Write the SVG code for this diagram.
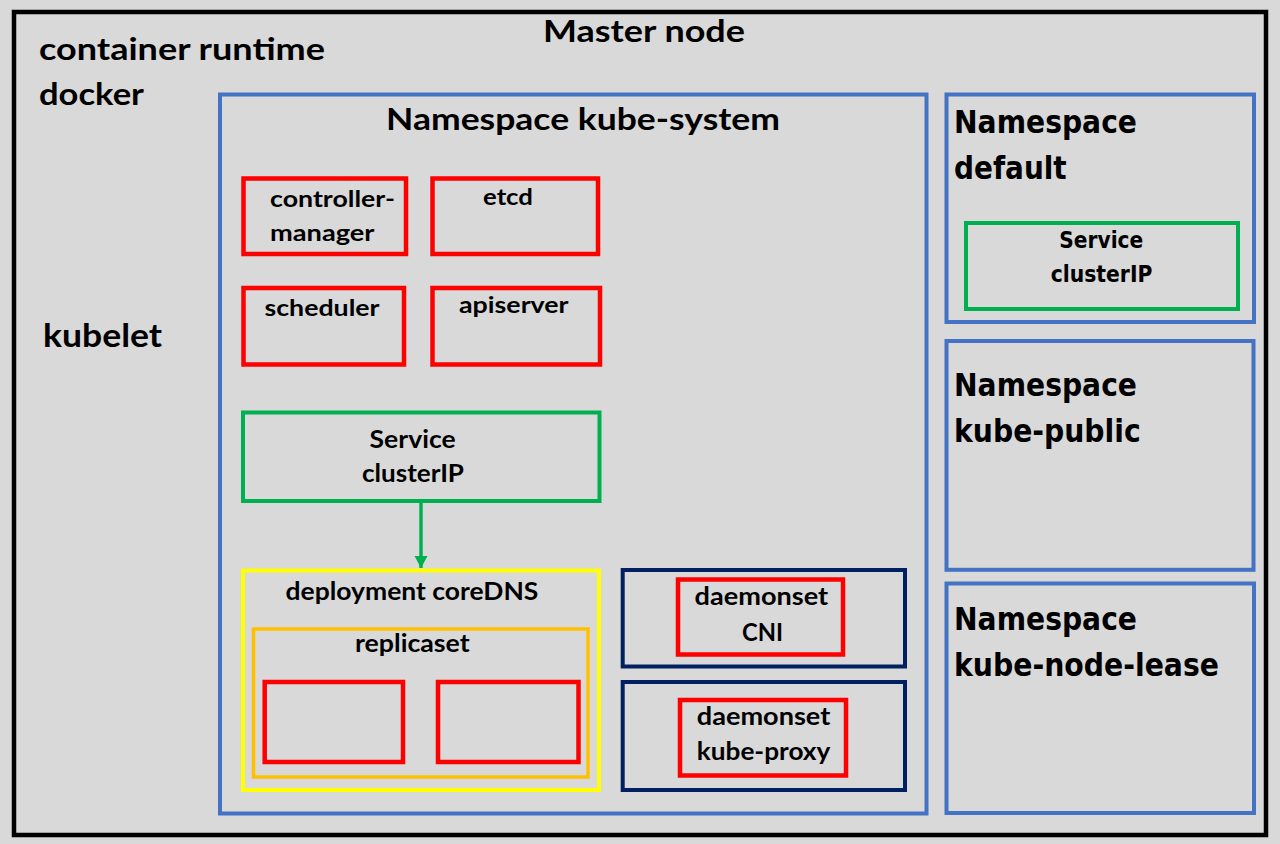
<svg xmlns="http://www.w3.org/2000/svg" width="1280" height="844" viewBox="0 0 1280 844">
<defs>
<style>
.c{font-family:Lato,"Open Sans","Liberation Sans",sans-serif;font-weight:bold;fill:#000}
.v{font-family:"DejaVu Sans","Liberation Sans",sans-serif;font-weight:bold;fill:#000}
.big{font-size:31px}
.lbl{font-size:23px}
.ns{font-size:32px}
.sm{font-size:23px}
rect{fill:none}
.blue{stroke:#4472c4;stroke-width:4}
.red{stroke:#ff0000;stroke-width:4.5}
.green{stroke:#00b050;stroke-width:4}
.navy{stroke:#002060;stroke-width:4}
.yellow{stroke:#ffff00;stroke-width:4}
.orange{stroke:#ffc000;stroke-width:3.5}
</style>
<marker id="arr" markerUnits="userSpaceOnUse" markerWidth="14" markerHeight="14" refX="12" refY="6.5" orient="auto">
<polygon points="0,0 12,6.5 0,13" fill="#00b050"/>
</marker>
</defs>
<rect x="0" y="0" width="1280" height="844" style="fill:#d9d9d9"/>
<g id="master-node">
<rect x="14" y="12" width="1252" height="823" style="stroke:#000;stroke-width:4.5"/>
<text class="c big" x="543" y="42" textLength="202" lengthAdjust="spacingAndGlyphs">Master node</text>
<text class="c big" x="39" y="60" textLength="286" lengthAdjust="spacingAndGlyphs">container runtime</text>
<text class="c big" x="39" y="105" textLength="105" lengthAdjust="spacingAndGlyphs">docker</text>
<text class="c" style="font-size:33px" x="43" y="347" textLength="119" lengthAdjust="spacingAndGlyphs">kubelet</text>
</g>
<g id="ns-kube-system">
<rect class="blue" x="220" y="94.5" width="706.5" height="719"/>
<text class="c" style="font-size:30px" x="386" y="130" textLength="394" lengthAdjust="spacingAndGlyphs">Namespace kube-system</text>
</g>
<g id="controller-manager">
<rect class="red" x="243.5" y="178.5" width="162.5" height="75.5"/>
<text class="c lbl" x="270" y="207" textLength="125" lengthAdjust="spacingAndGlyphs">controller-</text>
<text class="c lbl" x="270" y="241" textLength="104.5" lengthAdjust="spacingAndGlyphs">manager</text>
</g>
<g id="etcd">
<rect class="red" x="432.5" y="178.5" width="165.5" height="75.5"/>
<text class="c lbl" x="483" y="205" textLength="50" lengthAdjust="spacingAndGlyphs">etcd</text>
</g>
<g id="scheduler">
<rect class="red" x="243.5" y="288" width="160.5" height="76.5"/>
<text class="c lbl" x="264.5" y="316" textLength="115" lengthAdjust="spacingAndGlyphs">scheduler</text>
</g>
<g id="apiserver">
<rect class="red" x="432.5" y="288" width="167.5" height="76.5"/>
<text class="c lbl" x="459" y="313" textLength="109.6" lengthAdjust="spacingAndGlyphs">apiserver</text>
</g>
<g id="service-kube-system">
<rect class="green" x="243" y="412.5" width="356.5" height="88.5"/>
<text class="c lbl" style="font-size:25px" x="369.6" y="448" textLength="86" lengthAdjust="spacingAndGlyphs">Service</text>
<text class="c lbl" style="font-size:25px" x="362" y="481.7" textLength="102" lengthAdjust="spacingAndGlyphs">clusterIP</text>
</g>
<g id="deployment-coredns">
<rect class="yellow" x="243" y="570.5" width="356" height="219.5"/>
<text class="c lbl" style="font-size:24px" x="285.6" y="599.5" textLength="252.7" lengthAdjust="spacingAndGlyphs">deployment coreDNS</text>
</g>
<g id="replicaset">
<rect class="orange" x="253.5" y="629" width="334.5" height="148"/>
<text class="c lbl" style="font-size:24px" x="355" y="651.7" textLength="114.7" lengthAdjust="spacingAndGlyphs">replicaset</text>
</g>
<g id="pod-1">
<rect class="red" x="264.7" y="682" width="138.3" height="80"/>
</g>
<g id="pod-2">
<rect class="red" x="438" y="682" width="140.5" height="80"/>
</g>
<g id="daemonset-cni">
<rect class="navy" x="622.7" y="570" width="282.3" height="96.5"/>
<rect class="red" x="678" y="579.5" width="165" height="75"/>
<text class="c lbl" style="font-size:24px" x="694.6" y="605" textLength="133.5" lengthAdjust="spacingAndGlyphs">daemonset</text>
<text class="c lbl" style="font-size:24px" x="742" y="640.7" textLength="41" lengthAdjust="spacingAndGlyphs">CNI</text>
</g>
<g id="daemonset-kube-proxy">
<rect class="navy" x="622.7" y="682" width="282.3" height="108"/>
<rect class="red" x="680" y="700" width="166" height="75.5"/>
<text class="c lbl" style="font-size:24px" x="696.8" y="725" textLength="133.5" lengthAdjust="spacingAndGlyphs">daemonset</text>
<text class="c lbl" style="font-size:24px" x="696.8" y="760" textLength="133.5" lengthAdjust="spacingAndGlyphs">kube-proxy</text>
</g>
<g id="ns-default">
<rect class="blue" x="946.5" y="94.5" width="307.5" height="227.5"/>
<text class="v ns" x="954" y="132.7" textLength="183" lengthAdjust="spacingAndGlyphs">Namespace</text>
<text class="v ns" x="954" y="178.5" textLength="112.7" lengthAdjust="spacingAndGlyphs">default</text>
</g>
<g id="service-default">
<rect class="green" x="966" y="223" width="272" height="86"/>
<text class="v sm" x="1059.3" y="248" textLength="84" lengthAdjust="spacingAndGlyphs">Service</text>
<text class="v sm" x="1050.7" y="282.4" textLength="101.7" lengthAdjust="spacingAndGlyphs">clusterIP</text>
</g>
<g id="ns-kube-public">
<rect class="blue" x="946.5" y="341" width="307" height="228.8"/>
<text class="v ns" x="954" y="396" textLength="183" lengthAdjust="spacingAndGlyphs">Namespace</text>
<text class="v ns" x="954" y="442" textLength="186.7" lengthAdjust="spacingAndGlyphs">kube-public</text>
</g>
<g id="ns-kube-node-lease">
<rect class="blue" x="946.5" y="583.5" width="307.5" height="229.5"/>
<text class="v ns" x="954" y="630" textLength="183" lengthAdjust="spacingAndGlyphs">Namespace</text>
<text class="v ns" x="954" y="676" textLength="265" lengthAdjust="spacingAndGlyphs">kube-node-lease</text>
</g>
<g id="connectors">
<line x1="421" y1="503" x2="421" y2="568" stroke="#00b050" stroke-width="3.5" marker-end="url(#arr)"/>
</g>
</svg>
